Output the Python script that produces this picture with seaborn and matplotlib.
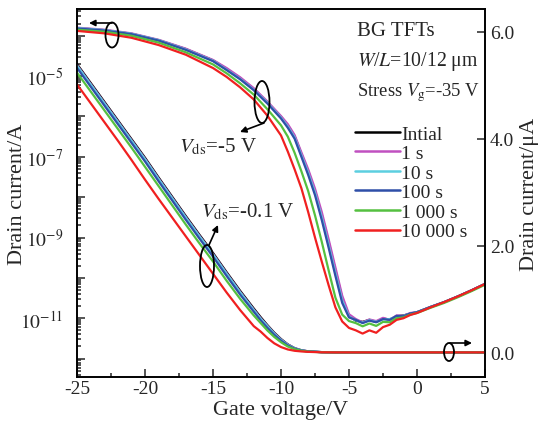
import numpy as np
import pandas as pd
import matplotlib
matplotlib.use("Agg")
import matplotlib.pyplot as plt
import seaborn as sns
from matplotlib.patches import Ellipse, FancyArrowPatch
from matplotlib.lines import Line2D
from matplotlib.ticker import LogLocator, MultipleLocator, FuncFormatter, FixedLocator, NullFormatter

# ---------------- data ----------------
series = ["Intial", "1 s", "10 s", "100 s", "1 000 s", "10 000 s"]
colors = ["#000000", "#c050c0", "#5ccfe0", "#2f4fa8", "#55c040", "#f02020"]

# gate voltage for log-scale curves (left axis)
vg_log = [-25, -23, -21, -19, -17, -15, -14, -13, -12, -11, -10, -9.5, -9, -8.5, -8, -7.5,
          -7, -6.5, -6, -5.5, -5, -4.5, -4, -3.5, -3, -2.5, -2, -1.5, -1, -0.5, 0, 1, 2, 3, 4, 5]
log_initial = [-3.81, -3.86, -3.95, -4.11, -4.33, -4.61, -4.82, -5.05, -5.32, -5.65, -6.01, -6.22,
               -6.49, -6.93, -7.36, -7.85, -8.44, -9.11, -9.81, -10.50, -10.94, -11.06, -11.09,
               -11.04, -11.09, -11.01, -11.03, -10.95, -10.93, -10.89, -10.85, -10.72, -10.60,
               -10.46, -10.31, -10.15]
log_1s = [-3.80, -3.85, -3.94, -4.10, -4.32, -4.60, -4.80, -5.03, -5.30, -5.63, -5.99, -6.19,
          -6.46, -6.89, -7.31, -7.79, -8.37, -9.04, -9.74, -10.44, -10.90, -11.02, -11.10,
          -11.03, -11.07, -10.99, -11.04, -10.93, -10.94, -10.87, -10.85, -10.72, -10.60,
          -10.46, -10.31, -10.15]
log_10s = [-3.81, -3.86, -3.95, -4.11, -4.34, -4.62, -4.84, -5.07, -5.34, -5.66, -6.03, -6.25,
           -6.52, -6.96, -7.40, -7.89, -8.50, -9.18, -9.88, -10.56, -10.96, -11.05, -11.11,
           -11.05, -11.09, -11.03, -11.02, -10.96, -10.94, -10.89, -10.85, -10.72, -10.60,
           -10.46, -10.31, -10.15]
log_100s = [-3.82, -3.87, -3.96, -4.12, -4.35, -4.63, -4.85, -5.08, -5.35, -5.68, -6.05, -6.28,
            -6.55, -7.00, -7.45, -7.95, -8.57, -9.25, -9.95, -10.62, -10.98, -11.04, -11.12,
            -11.06, -11.10, -11.02, -11.04, -10.94, -10.95, -10.88, -10.85, -10.72, -10.60,
            -10.46, -10.31, -10.15]
log_1000s = [-3.85, -3.90, -4.00, -4.17, -4.41, -4.71, -4.93, -5.18, -5.46, -5.82, -6.22, -6.50,
             -6.90, -7.36, -7.85, -8.45, -9.11, -9.81, -10.49, -10.91, -11.07, -11.12, -11.20,
             -11.13, -11.19, -11.09, -11.10, -11.00, -10.98, -10.91, -10.87, -10.74, -10.62,
             -10.48, -10.33, -10.17]
log_10000s = [-3.88, -3.94, -4.05, -4.23, -4.47, -4.80, -5.02, -5.28, -5.58, -5.98, -6.47, -6.87,
              -7.31, -7.78, -8.37, -9.00, -9.60, -10.18, -10.73, -11.08, -11.24, -11.30, -11.38,
              -11.30, -11.36, -11.22, -11.16, -11.04, -11.00, -10.92, -10.87, -10.73, -10.60,
              -10.46, -10.31, -10.15]

# gate voltage for linear-scale curves (right axis, uA)
vg_lin = [-25, -24, -23, -22, -21, -20, -19, -18, -17, -16, -15, -14, -13, -12, -11.5, -11,
          -10.5, -10, -9.5, -9, -8.5, -8, -7, -6, -4, -2, 0, 2, 5]
lin_initial = [5.40, 5.05, 4.70, 4.35, 4.00, 3.65, 3.28, 2.92, 2.56, 2.21, 1.87, 1.51, 1.16, 0.83,
               0.67, 0.52, 0.38, 0.26, 0.16, 0.09, 0.05, 0.03, 0.015, 0.01, 0.01, 0.01, 0.01, 0.01, 0.01]
lin_1s = [5.38, 5.03, 4.68, 4.33, 3.98, 3.63, 3.26, 2.90, 2.54, 2.19, 1.85, 1.49, 1.14, 0.81,
          0.65, 0.505, 0.37, 0.25, 0.155, 0.087, 0.049, 0.03, 0.015, 0.01, 0.01, 0.01, 0.01, 0.01, 0.01]
lin_10s = [5.37, 5.02, 4.67, 4.32, 3.97, 3.62, 3.25, 2.89, 2.53, 2.18, 1.84, 1.48, 1.13, 0.80,
           0.64, 0.50, 0.36, 0.245, 0.15, 0.085, 0.048, 0.029, 0.015, 0.01, 0.01, 0.01, 0.01, 0.01, 0.01]
lin_100s = [5.33, 4.98, 4.63, 4.28, 3.93, 3.58, 3.21, 2.85, 2.49, 2.14, 1.80, 1.44, 1.09, 0.77,
            0.61, 0.47, 0.34, 0.23, 0.14, 0.08, 0.045, 0.028, 0.014, 0.01, 0.01, 0.01, 0.01, 0.01, 0.01]
lin_1000s = [5.24, 4.89, 4.54, 4.19, 3.84, 3.48, 3.12, 2.76, 2.40, 2.05, 1.71, 1.35, 1.01, 0.70,
             0.56, 0.42, 0.30, 0.20, 0.12, 0.07, 0.04, 0.025, 0.013, 0.01, 0.01, 0.01, 0.01, 0.01, 0.01]
lin_10000s = [5.02, 4.67, 4.32, 3.97, 3.61, 3.24, 2.88, 2.53, 2.18, 1.83, 1.48, 1.13, 0.80, 0.50,
              0.40, 0.28, 0.18, 0.11, 0.065, 0.04, 0.028, 0.02, 0.012, 0.01, 0.01, 0.01, 0.01, 0.01, 0.01]

log_sets = [log_initial, log_1s, log_10s, log_100s, log_1000s, log_10000s]
lin_sets = [lin_initial, lin_1s, lin_10s, lin_100s, lin_1000s, lin_10000s]

df_log = pd.concat([pd.DataFrame({"Vg": vg_log, "I": np.power(10.0, np.array(v)), "Series": s})
                    for s, v in zip(series, log_sets)], ignore_index=True)
df_lin = pd.concat([pd.DataFrame({"Vg": vg_lin, "I": v, "Series": s})
                    for s, v in zip(series, lin_sets)], ignore_index=True)

# ---------------- style ----------------
sns.set_style("ticks")
plt.rcParams["font.family"] = ["Liberation Serif", "DejaVu Serif"]
plt.rcParams["mathtext.fontset"] = "stix"
plt.rcParams["axes.unicode_minus"] = False

W, H = 544, 427
fig = plt.figure(figsize=(W / 100, H / 100), dpi=100)
L, R, T, B = 77, 485, 10, 378
ax = fig.add_axes([L / W, 1 - B / H, (R - L) / W, (B - T) / H])
ax.set_yscale("log")
ax2 = ax.twinx()

pal = dict(zip(series, colors))
sns.lineplot(data=df_log, x="Vg", y="I", hue="Series", hue_order=series, palette=pal,
             estimator=None, sort=False, lw=1.6, legend=False, ax=ax)
sns.lineplot(data=df_lin, x="Vg", y="I", hue="Series", hue_order=series, palette=pal,
             estimator=None, sort=False, lw=1.6, legend=False, ax=ax2)

ax.set_xlim(-25, 5)
ax.set_ylim(3.5e-13, 4.6e-4)
ax2.set_ylim(-0.45, 6.43)

ax.xaxis.set_major_locator(MultipleLocator(5))
ax.xaxis.set_minor_locator(MultipleLocator(2.5))
ax.yaxis.set_major_locator(LogLocator(base=10, numticks=30))
ax.yaxis.set_minor_locator(LogLocator(base=10, subs=np.arange(2, 10), numticks=30))
ax.yaxis.set_minor_formatter(NullFormatter())


def log_fmt(v, pos):
    e = int(round(np.log10(v)))
    return r"$10^{%d}$" % e if e % 2 != 0 else ""


ax.yaxis.set_major_formatter(FuncFormatter(log_fmt))
ax2.yaxis.set_major_locator(FixedLocator([0, 2, 4, 6]))
ax2.yaxis.set_major_formatter(FuncFormatter(lambda v, p: "%.1f" % v))

ax.tick_params(which="both", direction="in", top=False, right=False, labelsize=14, width=1.1)
ax.tick_params(axis="x", pad=2)
ax.tick_params(axis="y", pad=10)
ax.tick_params(which="major", length=6)
ax.tick_params(which="minor", length=3)
ax2.tick_params(which="both", direction="in", labelsize=14, width=1.1, length=6)
for a in (ax, ax2):
    for sp in a.spines.values():
        sp.set_linewidth(1.2)
        sp.set_color("black")

ax.set_xlabel("Gate voltage/V", fontsize=16, labelpad=2)
ax.set_ylabel("Drain current/A", fontsize=16)
ax.yaxis.set_label_coords((27 - L) / (R - L), 0.5)
ax2.set_ylabel("Drain current/μA", fontsize=16, labelpad=4)


def P(x, y):
    return (x / W, 1 - y / H)


fig.text(*P(357, 31), "BG TFTs", fontsize=15, va="center", ha="left")
fig.text(*P(357, 62), r"$W$/$L$=10/12 μm", fontsize=14.2, va="center", ha="left")
fig.text(*P(357, 93), r"Stress $V_{\mathrm{g}}$=-35 V", fontsize=13.4, va="center", ha="left")
fig.text(*P(179, 147), r"$V_{\mathrm{ds}}$=-5 V", fontsize=15, va="center", ha="left")
fig.text(*P(201, 212), r"$V_{\mathrm{ds}}$=-0.1 V", fontsize=15, va="center", ha="left")

# legend
handles = [Line2D([0], [0], color=c, lw=1.8) for c in colors]
ax2.legend(handles, series, loc="upper left",
           bbox_to_anchor=((355 - L) / (R - L), (B - 126) / (B - T)),
           frameon=False, fontsize=14, handlelength=2.3, handletextpad=0.08,
           labelspacing=0.1, borderaxespad=0, borderpad=0)

# ellipses and arrows
for cx, cy, w, h in [(112, 36, 13, 25), (262, 103, 15, 42), (207, 267, 14, 42), (449, 353, 10, 18)]:
    fig.add_artist(Ellipse(P(cx, cy), w / W, h / H, transform=fig.transFigure,
                           fill=False, ec="black", lw=1.3, zorder=5))
for (x0, y0), (x1, y1) in [((112, 24), (89, 24)), ((264, 124), (240, 133)),
                           ((209, 246), (218, 226)), ((450, 344), (472, 344))]:
    fig.add_artist(FancyArrowPatch(P(x0, y0), P(x1, y1), transform=fig.transFigure,
                                   arrowstyle="-|>", mutation_scale=9, lw=1.2,
                                   color="black", shrinkA=0, shrinkB=0, zorder=5))

fig.savefig("out.png", dpi=100)
